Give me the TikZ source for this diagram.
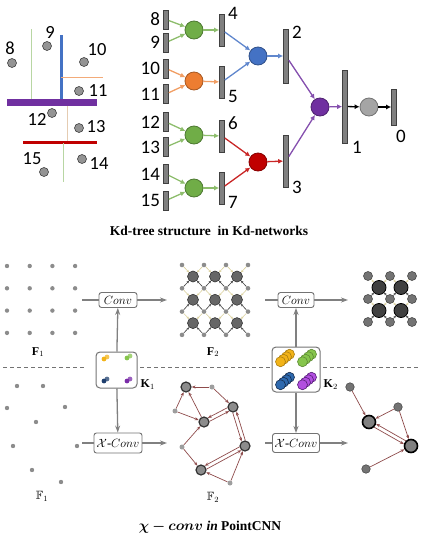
\documentclass[tikz,border=0pt]{standalone}
\usepackage{fontspec}
\usepackage{amsmath,amssymb,bm}
\setmainfont{Liberation Serif}
\newfontfamily\numfont{Carlito}
\usetikzlibrary{arrows.meta, positioning, calc}

\definecolor{kdgreen}{HTML}{70AD47}
\definecolor{kdorange}{HTML}{ED7D31}
\definecolor{kdblue}{HTML}{4472C4}
\definecolor{kdred}{HTML}{C00000}
\definecolor{kdpurple}{HTML}{7030A0}
\definecolor{kdgray}{HTML}{A5A5A5}
\definecolor{edgered}{HTML}{8E4B4B}
\definecolor{kyellow}{HTML}{F2B318}
\definecolor{kgreen}{HTML}{86C54C}
\definecolor{knavy}{HTML}{1F3F6E}
\definecolor{kblue}{HTML}{2E69AE}
\definecolor{kpurple}{HTML}{7A2CA8}
\definecolor{kviolet}{HTML}{B24FE0}
\definecolor{latyellow}{HTML}{D9CF9A}

\tikzset{
    kdbar/.style={draw=black!75, fill=black!50, line width=0.6pt, minimum width=5pt, inner sep=0pt},
    kd/.style={circle, draw=#1!70!black, fill=#1, line width=0.8pt, minimum size=18pt, inner sep=0pt},
    kdarrow/.style={-{Latex[length=5pt,width=5pt]}, line width=1.3pt},
    num/.style={font=\numfont\fontsize{19}{20}\selectfont, inner sep=0pt},
    kdpt/.style={circle, draw=black!75, fill=black!42, line width=0.6pt, minimum size=9pt, inner sep=0pt},
    caption/.style={font=\bfseries\fontsize{13.5}{15}\selectfont, inner sep=0pt},
    opbox/.style={draw=black!55, fill=white, rounded corners=2.5pt, line width=0.9pt, minimum height=15pt, inner sep=1pt, font=\fontsize{12.5}{14}\selectfont},
    kbox/.style={draw=black!55, rounded corners=4pt, line width=1pt},
    flow/.style={-{Stealth[length=7pt,width=5pt]}, draw=black!50, line width=1.3pt},
    link/.style={draw=black!50, line width=1.3pt},
    divider/.style={draw=black!55, dash pattern=on 4pt off 3pt, line width=1pt},
    lbl/.style={font=\fontsize{12}{13}\selectfont, inner sep=0pt},
    sdot/.style={circle, fill=black!45, minimum size=4.4pt, inner sep=0pt},
    latsmall/.style={circle, fill=black!45, minimum size=4.6pt, inner sep=0pt},
    latbig/.style={circle, draw=black!80, fill=black!60, line width=0.6pt, minimum size=11pt, inner sep=0pt},
    outmid/.style={circle, draw=black!70, fill=black!55, line width=0.6pt, minimum size=9pt, inner sep=0pt},
    outbig/.style={circle, draw=black, fill=black!75, line width=0.8pt, minimum size=14pt, inner sep=0pt},
    latedge/.style={-{Stealth[length=2.5pt,width=2.2pt]}, line width=0.6pt},
    gbig/.style={circle, draw=black!80, fill=black!45, line width=1.2pt, minimum size=10pt, inner sep=0pt},
    gsmall/.style={circle, fill=black!38, minimum size=5pt, inner sep=0pt},
    obig/.style={circle, draw=black, fill=black!50, line width=1.6pt, minimum size=13pt, inner sep=0pt},
    osmall/.style={circle, draw=black!70, fill=black!55, line width=0.6pt, minimum size=8.5pt, inner sep=0pt},
    garrow/.style={-{Stealth[length=4pt,width=3pt]}, draw=edgered, line width=0.7pt}
}

\begin{document}
\begin{tikzpicture}[x=1pt, y=-1pt]
    \useasboundingbox (0,0) rectangle (425,536);

    % kd-tree splits of the point set
    \draw[line width=1pt, kdgreen!50] (31,29) -- (31,99);
    \draw[line width=3pt, kdblue] (61,35) -- (61,99);
    \draw[line width=1pt, kdorange!65] (61,77) -- (103,77);
    \draw[line width=6.5pt, kdpurple] (7,102.5) -- (97,102.5);
    \draw[line width=1pt, brown!40] (67,106) -- (67,141);
    \draw[line width=3pt, kdred] (23,142) -- (97,142);
    \draw[line width=1pt, kdgreen!50] (63,143) -- (63,182);

    \foreach \n/\x/\y/\lx/\ly in {8/12/63/10/48, 9/47/46/50/32, 10/84/62/97/50, 11/79/91/98/91, 12/52/113/37/119, 13/79/128/96/127, 14/82/159/99/164, 15/44/172/32/159} {
        \node[kdpt] (p\n) at (\x,\y) {};
        \node[num, font=\numfont\fontsize{18.5}{20}\selectfont] (pl\n) at (\lx,\ly) {\n};
    }

    % kd-tree
    \foreach \n/\y in {8/19.5, 9/42.5, 10/68.5, 11/94, 12/122, 13/147, 14/174, 15/200.5} {
        \node[kdbar, minimum height=19pt] (b\n) at (166,\y) {};
        \node[num, left=3pt of b\n] (l\n) {\n};
    }

    \node[kd=kdgreen] (c1) at (194,30) {};
    \node[kd=kdorange] (c2) at (194,81) {};
    \node[kd=kdgreen] (c3) at (194,135) {};
    \node[kd=kdgreen] (c4) at (194,188) {};

    \foreach \n/\y in {4/30, 5/82, 6/136, 7/188} {
        \node[kdbar, minimum height=32pt] (b\n) at (222,\y) {};
    }
    \node[num, right=3pt of b4.north east] (l4) {4};
    \node[num, right=3pt of b5.south east, yshift=2pt] (l5) {5};
    \node[num, right=3pt of b6.north east, yshift=-3pt] (l6) {6};
    \node[num, right=3pt of b7.south east, yshift=2pt] (l7) {7};

    \node[kd=kdblue] (c5) at (258,56) {};
    \node[kd=kdred] (c6) at (258,162) {};
    \node[kdbar, minimum height=54pt] (b2) at (286,56) {};
    \node[kdbar, minimum height=52pt] (b3) at (286,161) {};
    \node[num, right=3pt of b2.north east, yshift=-4pt] (l2) {2};
    \node[num, right=3pt of b3.south east] (l3) {3};

    \node[kd=kdpurple] (c7) at (320,107) {};
    \node[kdbar, minimum height=73pt] (b1) at (345,106.5) {};
    \node[num, right=4pt of b1.south east, yshift=-4pt] (l1) {1};
    \node[kd=kdgray] (c8) at (369,107) {};
    \node[kdbar, minimum height=36pt] (b0) at (394,107) {};
    \node[num, anchor=north west] (l0) at ([xshift=-1pt, yshift=-5pt]b0.south east) {0};

    \draw[kdarrow, kdgreen!80!white] (b8) -- (c1);
    \draw[kdarrow, kdgreen!80!white] (b9) -- (c1);
    \draw[kdarrow, kdorange!75!white] (b10) -- (c2);
    \draw[kdarrow, kdorange!75!white] (b11) -- (c2);
    \draw[kdarrow, kdgreen!80!white] (b12) -- (c3);
    \draw[kdarrow, kdgreen!80!white] (b13) -- (c3);
    \draw[kdarrow, kdgreen!80!white] (b14) -- (c4);
    \draw[kdarrow, kdgreen!80!white] (b15) -- (c4);
    \draw[kdarrow, kdgreen!80!white] (c1) -- (b4);
    \draw[kdarrow, kdorange!75!white] (c2) -- (b5);
    \draw[kdarrow, kdgreen!80!white] (c3) -- (b6);
    \draw[kdarrow, kdgreen!80!white] (c4) -- (b7);
    \draw[kdarrow, kdblue!85!white] (b4) -- (c5);
    \draw[kdarrow, kdblue!85!white] (b5) -- (c5);
    \draw[kdarrow, kdred!85!white] (b6) -- (c6);
    \draw[kdarrow, kdred!85!white] (b7) -- (c6);
    \draw[kdarrow, kdblue!85!white] (c5) -- (b2);
    \draw[kdarrow, kdred!85!white] (c6) -- (b3);
    \draw[kdarrow, kdpurple!85!white] (b2) -- (c7);
    \draw[kdarrow, kdpurple!85!white] (b3) -- (c7);
    \draw[kdarrow, kdpurple!85!white] (c7) -- (b1);
    \draw[kdarrow, black] (b1) -- (c8);
    \draw[kdarrow, black] (c8) -- (b0);

    \node[caption] (cap1) at (209,231) {Kd-tree structure\ \ in Kd-networks};

    % regular grid F1
    \foreach \i in {0,...,3} {
        \foreach \j in {0,...,3} {
            \node[sdot] (f-\i-\j) at (7+22.7*\i, 266+22.3*\j) {};
        }
    }
    \node[lbl] (F1) at (38,352) {$\mathbf{F}_1$};

    % F2 lattice
    \foreach \i in {0,...,3} {
        \foreach \j in {0,...,3} {
            \node[latsmall] (s-\i-\j) at (182+22*\i, 265+23.3*\j) {};
        }
    }
    \foreach \i/\ii in {0/1, 1/2, 2/3} {
        \foreach \j/\jj in {0/1, 1/2, 2/3} {
            \node[latbig] (g-\i-\j) at (193+22*\i, 276.5+23.3*\j) {};
            \draw[latedge, latyellow] (s-\i-\j) -- (g-\i-\j);
            \draw[latedge, latyellow] (s-\ii-\j) -- (g-\i-\j);
            \draw[latedge, black!75] (s-\i-\jj) -- (g-\i-\j);
            \draw[latedge, black!75] (s-\ii-\jj) -- (g-\i-\j);
        }
    }
    \node[lbl] (F2) at (213,352) {$\mathbf{F}_2$};

    % conv output
    \foreach \i in {0,1,2} {
        \foreach \j in {0,1,2} {
            \node[outmid] (m-\i-\j) at (368+22*\i, 276+23*\j) {};
        }
    }
    \foreach \i/\ii in {0/1, 1/2} {
        \foreach \j/\jj in {0/1, 1/2} {
            \node[outbig] (h-\i-\j) at (379+22*\i, 287.5+23*\j) {};
            \draw[latedge, latyellow] (m-\i-\j) -- (h-\i-\j);
            \draw[latedge, latyellow] (m-\ii-\j) -- (h-\i-\j);
            \draw[latedge, black!75] (m-\i-\jj) -- (h-\i-\j);
            \draw[latedge, black!75] (m-\ii-\jj) -- (h-\i-\j);
        }
    }

    % Conv operators
    \node[opbox, minimum width=38pt] (conv1) at (118,300) {$Conv$};
    \node[opbox, minimum width=36pt] (conv2) at (296,300) {$Conv$};
    \coordinate (c1in) at (82,300);
    \coordinate (c1out) at (167,300);
    \coordinate (c2in) at (265,300);
    \coordinate (c2out) at (348,300);
    \draw[link] (c1in) -- (conv1);
    \draw[flow] (conv1) -- (c1out);
    \draw[link] (c2in) -- (conv2);
    \draw[flow] (conv2) -- (c2out);

    \draw[divider] (3,367) -- (85,367);
    \draw[divider] (140,367) -- (270,367);
    \draw[divider] (323,367) -- (418,367);

    % kernels
    \node[kbox, minimum width=41pt, minimum height=36pt] (K1) at (116.5,370) {};
    \node[lbl, anchor=south west] (K1l) at ([xshift=3pt, yshift=-1pt]K1.south east) {$\mathbf{K}_1$};
    \foreach \cx/\cy/\col in {104/359/kyellow, 127/358/kgreen, 104/381/knavy, 127/381/kpurple} {
        \fill[\col!75] (\cx+3,\cy-2) circle (2.4pt);
        \fill[\col] (\cx,\cy) circle (2.4pt);
    }
    \node[kbox, minimum width=48pt, minimum height=45pt] (K2) at (296,369.5) {};
    \node[lbl, anchor=south west] (K2l) at ([xshift=3pt, yshift=3pt]K2.south east) {$\mathbf{K}_2$};
    \foreach \cx/\cy/\col/\face in {285/358/kyellow/kyellow, 307/358/kgreen/kgreen, 285/381/knavy/kblue, 307/381/kpurple/kviolet} {
        \foreach \k in {3,2,1,0} {
            \draw[fill=\face, draw=\col!70!black, line width=0.6pt] (\cx-4.5+3*\k, \cy+3.75-2.5*\k) circle (5pt);
        }
    }

    \draw[flow] (K1) -- (conv1);
    \draw[flow] (K2) -- (conv2);

    % X-Conv operators
    \node[opbox, minimum width=48pt, minimum height=20pt] (xconv1) at (118,443) {$\mathcal{X}$-$Conv$};
    \node[opbox, minimum width=47pt, minimum height=19pt] (xconv2) at (296,443) {$\mathcal{X}$-$Conv$};
    \coordinate (x1in) at (82,443);
    \coordinate (x1out) at (167,443);
    \coordinate (x2in) at (265,443);
    \coordinate (x2out) at (348,443);
    \draw[link] (x1in) -- (xconv1);
    \draw[flow] (xconv1) -- (x1out);
    \draw[link] (x2in) -- (xconv2);
    \draw[flow] (xconv2) -- (x2out);
    \draw[flow] (K1) -- (xconv1);
    \draw[flow] (K2) -- (xconv2);

    % scattered points FF1
    \foreach \n/\x/\y in {1/17/386, 2/43/386, 3/7/408, 4/65/407, 5/36/422, 6/13/446, 7/77/446, 8/32/470, 9/61/482} {
        \node[sdot] (q\n) at (\x,\y) {};
    }
    \node[lbl] (FF1) at (42,496) {$\mathbb{F}_1$};

    % FF2 graph
    \node[gbig] (A) at (186,387) {};
    \node[gbig] (B) at (233,407) {};
    \node[gbig] (C) at (204,422) {};
    \node[gbig] (D) at (245,446) {};
    \node[gbig] (E) at (201,470) {};
    \node[gsmall] (a) at (212,387) {};
    \node[gsmall] (b) at (175,411) {};
    \node[gsmall] (c) at (182,447) {};
    \node[gsmall] (d) at (230,483) {};
    \draw[garrow] (a) -- (A);
    \draw[garrow] (a) -- (B);
    \draw[garrow] (b) -- (A);
    \draw[garrow] (b) -- (C);
    \draw[garrow] (C) -- (A);
    \draw[garrow] (c) -- (C);
    \draw[garrow] (c) -- (E);
    \draw[garrow] (d) -- (E);
    \draw[garrow] (d) -- (D);
    \draw[garrow] (B.187) -- (C.47);
    \draw[garrow] (C.7) -- (B.227);
    \draw[garrow] (B.267) -- (D.127);
    \draw[garrow] (D.87) -- (B.307);
    \draw[garrow] (D.189) -- (E.49);
    \draw[garrow] (E.9) -- (D.229);
    \node[lbl] (FF2) at (213,497) {$\mathbb{F}_2$};

    % X-Conv output
    \node[obig] (P) at (369,422) {};
    \node[obig] (Q) at (411,446) {};
    \node[osmall] (o1) at (350,387) {};
    \node[osmall] (o2) at (398,407) {};
    \node[osmall] (o3) at (366,469) {};
    \draw[garrow] (o1) -- (P);
    \draw[garrow] (o2) -- (P);
    \draw[garrow] (o2) -- (Q);
    \draw[garrow] (o3) -- (Q);
    \draw[garrow] (P.315) -- (Q.165);
    \draw[garrow] (Q.135) -- (P.345);

    \node[caption] (cap2) at (210,527) {$\bm{\chi - conv}$ \textbf{\textit{in}} PointCNN};
\end{tikzpicture}
\end{document}
